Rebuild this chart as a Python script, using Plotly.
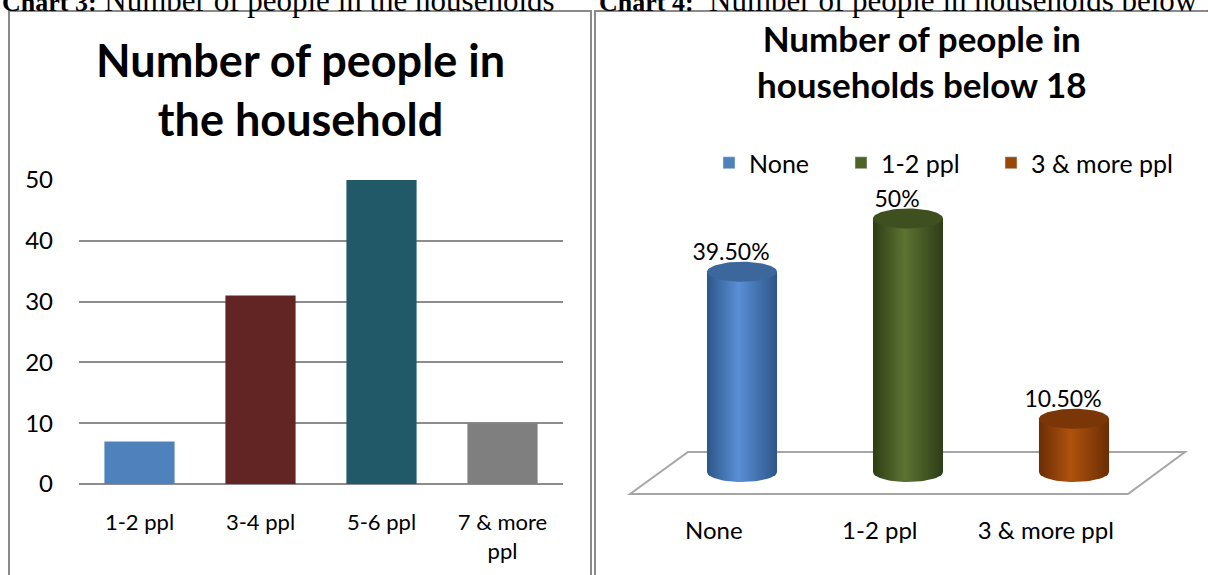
import numpy as np
import plotly.graph_objects as go

W, H = 1208, 575

# ---------------- data ----------------
left_title = "Number of people in<br>the household"
left_categories = ["1-2 ppl", "3-4 ppl", "5-6 ppl", "7 & more<br>ppl"]
left_values = [7, 31, 50, 10]
left_colors = ["#4F81BD", "#632523", "#215968", "#7F7F7F"]
left_yticks = [0, 10, 20, 30, 40, 50]

right_title = "Number of people in<br>households below 18"
right_categories = ["None", "1-2 ppl", "3 & more ppl"]
right_values = [39.5, 50, 10.5]
right_labels = ["39.50%", "50%", "10.50%"]
right_legend_colors = ["#4F81BD", "#4F6228", "#984807"]
right_edge_colors = ["#2C5688", "#2E3D15", "#6A2D04"]
right_mid_colors = ["#5A8FD6", "#5C7332", "#B0520E"]
right_cap_colors = ["#3C679C", "#3E5020", "#7A3607"]

header_left_bold = "Chart 3:"
header_left = "Number of people in the households"
header_right_bold = "Chart 4:"
header_right = " Number of people in households below 18"

FONT = "Lato"


def px(x):
    return x / W


def py(y):
    return 1 - y / H


def bold_lines(t):
    return "<b>" + t.replace("<br>", "</b><br><b>") + "</b>"


fig = go.Figure()

# ---------------- left chart ----------------
fig.add_trace(go.Bar(
    x=left_categories, y=left_values, marker=dict(color=left_colors, line=dict(width=0)),
    showlegend=False, xaxis="x", yaxis="y", hoverinfo="skip",
))

# ---------------- right chart (cylinders) ----------------
rx = 0.211   # cylinder half width (x units)
ry = 1.97    # ellipse half height (y units)
th_bot = np.linspace(np.pi, 2 * np.pi, 40)
th_full = np.linspace(0, 2 * np.pi, 80)
for i, (cat, v) in enumerate(zip(right_categories, right_values)):
    bx = list(i + rx * np.cos(th_bot)) + [i + rx, i - rx, i - rx]
    by = list(ry * np.sin(th_bot)) + [v, v, 0]
    fig.add_trace(go.Scatter(
        x=bx, y=by, mode="lines", fill="toself", line=dict(width=0),
        fillgradient=dict(type="horizontal", colorscale=[
            [0, right_edge_colors[i]], [0.45, right_mid_colors[i]], [1, right_edge_colors[i]]]),
        xaxis="x2", yaxis="y2", showlegend=False, hoverinfo="skip",
    ))
    fig.add_trace(go.Scatter(
        x=i + rx * np.cos(th_full), y=v + ry * np.sin(th_full), mode="lines", fill="toself",
        line=dict(width=0), fillcolor=right_cap_colors[i],
        xaxis="x2", yaxis="y2", showlegend=False, hoverinfo="skip",
    ))

# value labels
fig.add_trace(go.Scatter(
    x=np.arange(len(right_values)) - 0.066, y=np.array(right_values) + ry - 0.8,
    mode="text", text=right_labels, textposition="top center",
    textfont=dict(family=FONT, size=23, color="#000"),
    xaxis="x2", yaxis="y2", showlegend=False, hoverinfo="skip", cliponaxis=False,
))

# legend entries (one legend per entry so each sits where the reference has it)
legend_ids = ["legend", "legend2", "legend3"]
legend_x = [709, 841, 991]
for cat, col, lid in zip(right_categories, right_legend_colors, legend_ids):
    fig.add_trace(go.Bar(x=[None], y=[None], name=cat, marker=dict(color=col),
                         xaxis="x2", yaxis="y2", showlegend=True, legend=lid))

# ---------------- layout ----------------
x2_range = [(620 - 742) / 166, (1200 - 742) / 166]
y2_range = [(472 - 500) / 5.07, (472 - 180) / 5.07]

shapes = [
    # left frame
    dict(type="path", xref="paper", yref="paper",
         path=f"M {px(9)},{py(585)} L {px(9)},{py(11)} L {px(591)},{py(11)} L {px(591)},{py(585)}",
         line=dict(color="#8A8A8A", width=2)),
    # right frame
    dict(type="path", xref="paper", yref="paper",
         path=f"M {px(595)},{py(585)} L {px(595)},{py(11)} L {px(1215)},{py(11)}",
         line=dict(color="#8A8A8A", width=2)),
    # 3D floor
    dict(type="path", xref="paper", yref="paper", layer="below",
         path=(f"M {px(630)},{py(494)} L {px(688)},{py(452)} L {px(1185)},{py(452)} "
               f"L {px(1128)},{py(494)} Z"),
         line=dict(color="#A6A6A6", width=2), fillcolor="white"),
]

hdr_font = dict(family="Liberation Serif", size=31, color="#000")
annotations = [
    dict(text=bold_lines(left_title), x=px(300), y=py(89), xref="paper", yref="paper",
         showarrow=False, font=dict(family=FONT, size=45, color="#000"),
         xanchor="center", yanchor="middle"),
    dict(text=bold_lines(right_title), x=px(922), y=py(61), xref="paper", yref="paper",
         showarrow=False, font=dict(family=FONT, size=35, color="#000"),
         xanchor="center", yanchor="middle"),
    dict(text=f"<b><span style='font-size:26px'>{header_left_bold}</span></b> {header_left}",
         x=0, y=py(1), xref="paper", yref="paper", showarrow=False, font=hdr_font,
         xanchor="left", yanchor="middle"),
    dict(text=f"<b><span style='font-size:26px'>{header_right_bold}</span></b> {header_right}",
         x=px(597), y=py(1), xref="paper", yref="paper", showarrow=False, font=hdr_font,
         xanchor="left", yanchor="middle"),
]

legend_common = dict(orientation="h", xanchor="left", yanchor="top", itemwidth=30,
                     font=dict(family=FONT, size=25, color="#000"), bgcolor="rgba(0,0,0,0)")

fig.update_layout(
    width=W, height=H, margin=dict(l=0, r=0, t=0, b=0, autoexpand=False),
    paper_bgcolor="white", plot_bgcolor="rgba(0,0,0,0)",
    font=dict(family=FONT, size=20, color="#000"),
    bargap=0.42,
    xaxis=dict(domain=[px(79), px(563)], range=[-0.5, 3.5], showgrid=False, showline=False,
               zeroline=False, ticks="", ticklabelstandoff=23, automargin=False,
               tickfont=dict(family=FONT, size=22, color="#000"), fixedrange=True),
    yaxis=dict(domain=[py(484), py(180)], range=[0, 50], tickvals=left_yticks,
               showgrid=True, gridcolor="#8C8C8C", gridwidth=1.5, zeroline=True,
               zerolinecolor="#8C8C8C", zerolinewidth=1.5, showline=False, ticks="",
               ticklabelstandoff=25, automargin=False,
               tickfont=dict(family=FONT, size=24, color="#000"), fixedrange=True),
    xaxis2=dict(domain=[px(620), px(1200)], range=x2_range, anchor="y2",
                tickvals=np.arange(len(right_categories)) - 0.17, ticktext=right_categories,
                showgrid=False, showline=False, zeroline=False, ticks="", automargin=False,
                ticklabelstandoff=14, tickfont=dict(family=FONT, size=24, color="#000"),
                fixedrange=True),
    yaxis2=dict(domain=[py(500), py(180)], range=y2_range, anchor="x2", visible=False,
                fixedrange=True),
    legend=dict(x=px(legend_x[0]), y=py(140), **legend_common),
    legend2=dict(x=px(legend_x[1]), y=py(140), **legend_common),
    legend3=dict(x=px(legend_x[2]), y=py(140), **legend_common),
    shapes=shapes,
    annotations=annotations,
)

fig.write_html("out.html")
